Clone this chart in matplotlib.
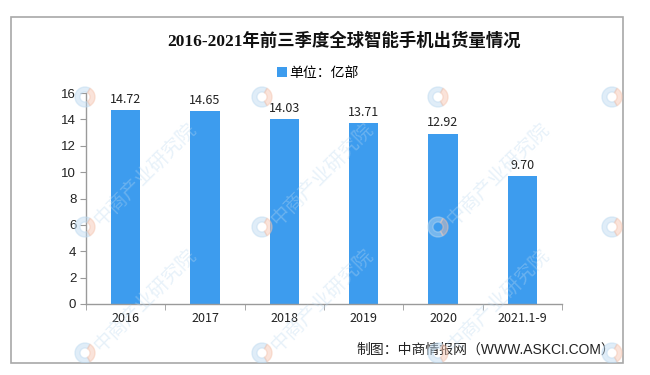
import matplotlib
matplotlib.use("Agg")
import matplotlib.pyplot as plt
from matplotlib.patches import Rectangle, Wedge

plt.rcParams['font.family'] = ['Liberation Sans', 'Noto Sans CJK SC', 'DejaVu Sans']

# data
categories = ["2016", "2017", "2018", "2019", "2020", "2021.1-9"]
shipments = [14.72, 14.65, 14.03, 13.71, 12.92, 9.70]
y_ticks = [0, 2, 4, 6, 8, 10, 12, 14, 16]

title = "2016-2021年前三季度全球智能手机出货量情况"
unit_label = "单位：亿部"
source = "制图：中商情报网（WWW.ASKCI.COM）"
watermark = "中商产业研究院"

BAR = "#3d9cee"
AXIS = "#9a9a9a"
W, H = 650, 375

fig = plt.figure(figsize=(6.5, 3.75), dpi=100)

ax = fig.add_axes([86 / W, 1 - 304 / H, 476 / W, 211 / H])
x = range(len(categories))
ax.bar(x, shipments, width=0.37, color=BAR, label=unit_label, zorder=2)
for i, v in zip(x, shipments):
    ax.annotate(f"{v:.2f}", (i, v), xytext=(0, 3), textcoords="offset points",
                ha="center", va="bottom", fontsize=9,
                family=['Noto Sans CJK SC'], color="#222222")

ax.set_xlim(-0.5, len(categories) - 0.5)
ax.set_ylim(0, 16)
ax.set_yticks(y_ticks)
ax.set_xticks(list(x))
ax.set_xticklabels(categories, family=['Noto Sans CJK SC'], fontsize=9)
ax.set_xticks([i - 0.5 for i in range(len(categories) + 1)], minor=True)
ax.tick_params(axis="x", which="major", length=0, pad=6, colors="#222222")
ax.tick_params(axis="x", which="minor", length=4, color=AXIS, direction="out")
ax.tick_params(axis="y", length=4, color=AXIS, labelsize=9.5, pad=3,
               labelcolor="#222222")
for s in ["top", "right"]:
    ax.spines[s].set_visible(False)
for s in ["left", "bottom"]:
    ax.spines[s].set_color(AXIS)
    ax.spines[s].set_linewidth(1)

fig.text(344 / W, 1 - 41 / H, title, ha="center", va="center", fontsize=12.5,
         fontweight="bold", family=['Liberation Serif', 'Noto Sans CJK SC'],
         color="#111111")
fig.legend(loc="center", bbox_to_anchor=(318 / W, 1 - 73 / H), frameon=False,
           handlelength=0.7, handleheight=0.7, handletextpad=0.2,
           prop={"family": ['Noto Sans CJK SC'], "size": 10})
fig.text(615 / W, 1 - 350 / H, source, ha="right", va="center", fontsize=10,
         color="#222222")

# frame + watermark overlay
ov = fig.add_axes([11 / W, 1 - 363 / H, 612 / W, 346 / H], zorder=5)
ov.set_xlim(11, 623)
ov.set_ylim(363, 17)
ov.patch.set_alpha(0)
ov.axis("off")
ov.add_patch(Rectangle((11, 17), 612, 346, fill=False, edgecolor="#a8a8a8",
                       linewidth=1.2, clip_on=False))
for lx in [85, 262, 438, 612]:
    for ly in [97, 227, 353]:
        ov.add_patch(Wedge((lx, ly), 10, 60, 300, width=5, color="#bcd9f0",
                           alpha=0.45))
        ov.add_patch(Wedge((lx, ly), 10, -60, 60, width=5, color="#f5c3ad",
                           alpha=0.45))
        # only the marks that fit inside the frame get their text
        if ly > 150 and lx < 600:
            ov.text(lx + 12, ly - 4, watermark, rotation=45,
                    rotation_mode="anchor", ha="left", va="center",
                    fontsize=14, color="#bcd9f0", alpha=0.35,
                    family=['Noto Sans CJK SC'])

fig.savefig("out.png", dpi=100)
